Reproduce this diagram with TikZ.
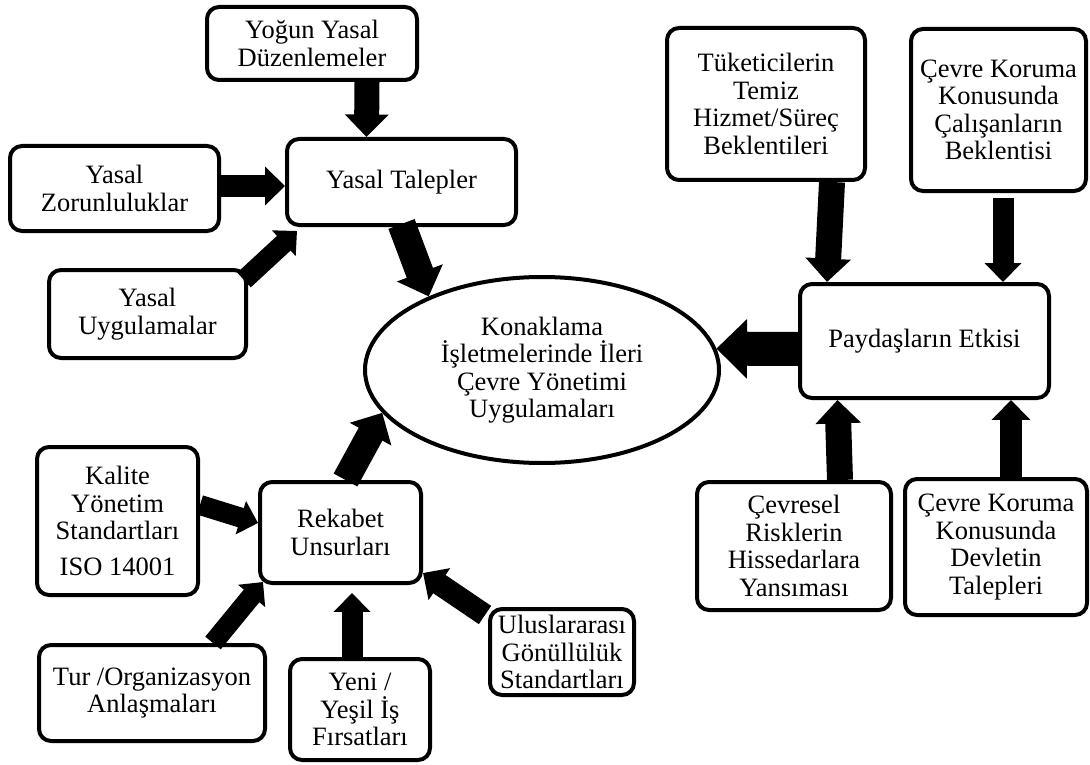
\documentclass[tikz,border=0pt]{standalone}
\usepackage{fontspec}
\setmainfont{Liberation Serif}
\usetikzlibrary{arrows.meta,shapes.geometric}
\tikzset{
  box/.style={draw, line width=4pt, rounded corners=12pt, align=center, inner sep=1pt,
    font=\fontsize{26.5}{27.5}\selectfont},
  arr/.style={line width=#1, -{Triangle[length=0pt .9, width=0pt 1.7]}}
}
\begin{document}
\begin{tikzpicture}[x=1pt, y=-1pt]
      \useasboundingbox (0,0) rectangle (1090,765);
      % left side
      \node[box, minimum width=210, minimum height=73] (yogun) at (312,43.5) {Yoğun Yasal\\Düzenlemeler};
      \node[box, minimum width=229, minimum height=86] (talep) at (401.5,182) {Yasal Talepler};
      \node[box, minimum width=209, minimum height=85] (zorunlu) at (114.5,188.5) {Yasal\\Zorunluluklar};
      \node[box, minimum width=197, minimum height=88] (uygul) at (147.5,314) {Yasal\\Uygulamalar};
      \node[draw, ellipse, line width=4pt, align=center, inner sep=0pt, minimum width=354, minimum height=186,
        font=\fontsize{26.5}{27.5}\selectfont] (merkez) at (542,370)
        {Konaklama\\İşletmelerinde İleri\\Çevre Yönetimi\\Uygulamaları};
      % right side
      \node[box, minimum width=198, minimum height=152] (tuketici) at (766,104) {Tüketicilerin\\Temiz\\Hizmet/Süreç\\Beklentileri};
      \node[box, minimum width=175, minimum height=162] (calisan) at (998.5,110) {Çevre Koruma\\Konusunda\\Çalışanların\\Beklentisi};
      \node[box, minimum width=249, minimum height=114] (paydas) at (924.5,341) {Paydaşların Etkisi};
      \node[box, minimum width=194, minimum height=128] (cevresel) at (794,546) {Çevresel\\Risklerin\\Hissedarlara\\Yansıması};
      \node[box, minimum width=182, minimum height=136] (devlet) at (996,547) {Çevre Koruma\\Konusunda\\Devletin\\Talepleri};
      % bottom left
      \node[box, minimum width=161, minimum height=148] (kalite) at (117.5,521) {Kalite\\Yönetim\\Standartları\\[8pt]ISO 14001};
      \node[box, minimum width=161, minimum height=101] (rekabet) at (340.5,532.5) {Rekabet\\Unsurları};
      \node[box, minimum width=226, minimum height=96] (tur) at (152,693) {Tur /Organizasyon\\Anlaşmaları};
      \node[box, minimum width=140, minimum height=101] (yeni) at (360,709.5) {Yeni /\\Yeşil İş\\Fırsatları};
      \node[box, minimum width=144, minimum height=86, inner sep=0pt] (ulus) at (562,652) {Uluslararası\\Gönüllülük\\Standartları};
      % block arrows
      \draw[arr=25] ([xshift=55]yogun.south) -- ([xshift=-35]talep.north);
      \draw[arr=22] ([yshift=2.5]zorunlu.east) -- ([yshift=-4]talep.west);
      \draw[arr=20] ([xshift=-4,yshift=-12]uygul.north east) -- ([xshift=12,yshift=-4]talep.south west);
      \draw[arr=28] ([yshift=3]talep.south) -- (merkez.147);
      \draw[arr=26] ([xshift=66]tuketici.south) -- ([xshift=-97.5]paydas.north);
      \draw[arr=21] ([xshift=4.5,yshift=-5]calisan.south) -- ([xshift=78.5]paydas.north);
      \draw[arr=34] ([yshift=-8]paydas.west) -- (merkez.7);
      \draw[arr=26] ([xshift=46]cevresel.north) -- ([xshift=-87]paydas.south);
      \draw[arr=22] ([xshift=15]devlet.north) -- ([xshift=86.5]paydas.south);
      \draw[arr=27] ([xshift=5]rekabet.north) -- (merkez.195);
      \draw[arr=20] ([yshift=16]kalite.east) -- ([yshift=9.5]rekabet.west);
      \draw[arr=20] ([xshift=61]tur.north) -- ([xshift=5,yshift=3]rekabet.south west);
      \draw[arr=21] ([xshift=-8]yeni.north) -- ([xshift=11.5,yshift=-8]rekabet.south);
      \draw[arr=22] ([xshift=-3,yshift=-8]ulus.north west) -- ([yshift=12]rekabet.south east);
    \end{tikzpicture}
\end{document}
